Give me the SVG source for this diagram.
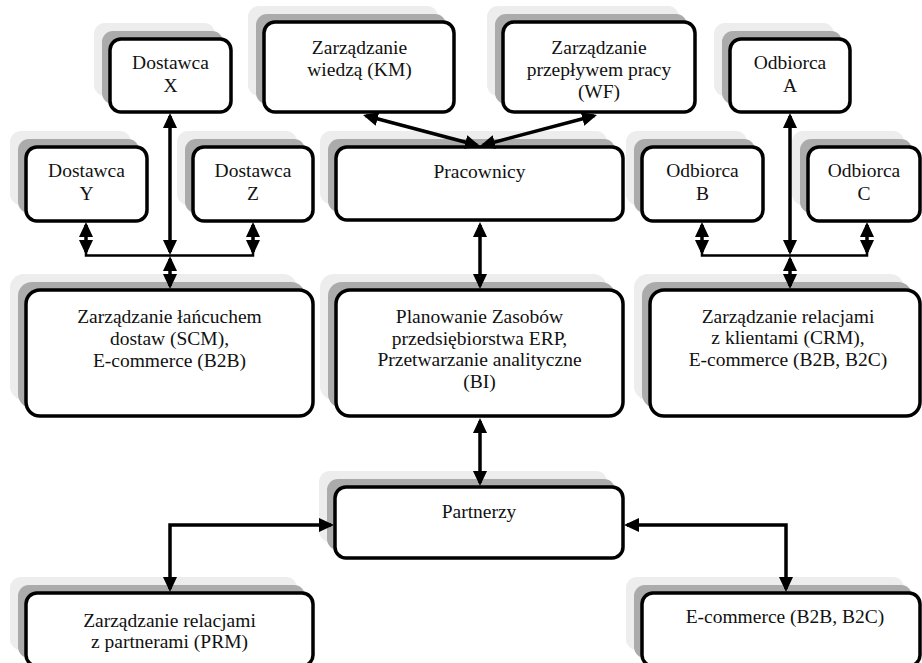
<svg xmlns="http://www.w3.org/2000/svg" width="922" height="663" viewBox="0 0 922 663">
<style>
.box{fill:#fff;stroke:#000;stroke-width:3.5}
.sh1{fill:#ededed}
.sh2{fill:#ababab}
.t{font-family:"Liberation Serif","Times New Roman",serif;font-size:19.5px;fill:#111;text-anchor:middle}
.c{fill:none;stroke:#000;stroke-width:3.5}
.bar{fill:none;stroke:#000;stroke-width:2.5}
</style>
<defs>
<marker id="ah" viewBox="0 0 15 14" refX="12" refY="7" markerWidth="15" markerHeight="14" markerUnits="userSpaceOnUse" orient="auto-start-reverse">
<path d="M0,0 L15,7 L0,14 z" fill="#000"/>
</marker>
</defs>
<rect width="922" height="663" fill="#fff"/>

<g id="dostawcaX">
<rect class="sh1" x="94" y="23" width="121" height="73" rx="11"/>
<rect class="sh2" x="102" y="31" width="121" height="73" rx="11"/>
<rect class="box" x="110" y="39" width="121" height="73" rx="11"/>
<text class="t" x="170.5" y="69">Dostawca</text>
<text class="t" x="170.5" y="92">X</text>
</g>
<g id="dostawcaY">
<rect class="sh1" x="10" y="131" width="121" height="74" rx="11"/>
<rect class="sh2" x="18" y="139" width="121" height="74" rx="11"/>
<rect class="box" x="26" y="147" width="121" height="74" rx="11"/>
<text class="t" x="86.5" y="177">Dostawca</text>
<text class="t" x="86.5" y="199.5">Y</text>
</g>
<g id="dostawcaZ">
<rect class="sh1" x="177" y="131" width="120" height="74" rx="11"/>
<rect class="sh2" x="185" y="139" width="120" height="74" rx="11"/>
<rect class="box" x="193" y="147" width="120" height="74" rx="11"/>
<text class="t" x="253" y="177">Dostawca</text>
<text class="t" x="253" y="199.5">Z</text>
</g>
<g id="km">
<rect class="sh1" x="248" y="6" width="190" height="90" rx="11"/>
<rect class="sh2" x="256" y="14" width="190" height="90" rx="11"/>
<rect class="box" x="264" y="22" width="190" height="90" rx="11"/>
<text class="t" x="359.5" y="54">Zarządzanie</text>
<text class="t" x="359.5" y="76">wiedzą (KM)</text>
</g>
<g id="wf">
<rect class="sh1" x="487" y="6" width="192" height="90" rx="11"/>
<rect class="sh2" x="495" y="14" width="192" height="90" rx="11"/>
<rect class="box" x="503" y="22" width="192" height="90" rx="11"/>
<text class="t" x="599" y="54">Zarządzanie</text>
<text class="t" x="599" y="76">przepływem pracy</text>
<text class="t" x="599" y="98">(WF)</text>
</g>
<g id="odbiorcaA">
<rect class="sh1" x="714" y="23" width="120" height="73" rx="11"/>
<rect class="sh2" x="722" y="31" width="120" height="73" rx="11"/>
<rect class="box" x="730" y="39" width="120" height="73" rx="11"/>
<text class="t" x="790" y="69">Odbiorca</text>
<text class="t" x="790" y="92">A</text>
</g>
<g id="odbiorcaB">
<rect class="sh1" x="626" y="131" width="121" height="74" rx="11"/>
<rect class="sh2" x="634" y="139" width="121" height="74" rx="11"/>
<rect class="box" x="642" y="147" width="121" height="74" rx="11"/>
<text class="t" x="702.5" y="177">Odbiorca</text>
<text class="t" x="702.5" y="199.5">B</text>
</g>
<g id="odbiorcaC">
<rect class="sh1" x="792" y="131" width="112" height="74" rx="11"/>
<rect class="sh2" x="800" y="139" width="112" height="74" rx="11"/>
<rect class="box" x="808" y="147" width="112" height="74" rx="11"/>
<text class="t" x="864" y="177">Odbiorca</text>
<text class="t" x="864" y="199.5">C</text>
</g>
<g id="pracownicy">
<rect class="sh1" x="320" y="131" width="287" height="73" rx="11"/>
<rect class="sh2" x="328" y="139" width="287" height="73" rx="11"/>
<rect class="box" x="336" y="147" width="287" height="73" rx="11"/>
<text class="t" x="479.5" y="178">Pracownicy</text>
</g>
<g id="scm">
<rect class="sh1" x="10" y="274" width="287" height="126" rx="14"/>
<rect class="sh2" x="18" y="282" width="287" height="126" rx="14"/>
<rect class="box" x="26" y="290" width="287" height="126" rx="14"/>
<text class="t" x="169.5" y="323">Zarządzanie łańcuchem</text>
<text class="t" x="169.5" y="345">dostaw (SCM),</text>
<text class="t" x="169.5" y="367">E-commerce (B2B)</text>
</g>
<g id="erp">
<rect class="sh1" x="320" y="274" width="287" height="126" rx="14"/>
<rect class="sh2" x="328" y="282" width="287" height="126" rx="14"/>
<rect class="box" x="336" y="290" width="287" height="126" rx="14"/>
<text class="t" x="479.5" y="323">Planowanie Zasobów</text>
<text class="t" x="479.5" y="344.5">przedsiębiorstwa ERP,</text>
<text class="t" x="479.5" y="366">Przetwarzanie analityczne</text>
<text class="t" x="479.5" y="388">(BI)</text>
</g>
<g id="crm">
<rect class="sh1" x="634" y="274" width="270" height="126" rx="14"/>
<rect class="sh2" x="642" y="282" width="270" height="126" rx="14"/>
<rect class="box" x="650" y="290" width="270" height="126" rx="14"/>
<text class="t" x="788" y="323">Zarządzanie relacjami</text>
<text class="t" x="788" y="344">z klientami (CRM),</text>
<text class="t" x="788" y="366">E-commerce (B2B, B2C)</text>
</g>
<g id="partnerzy">
<rect class="sh1" x="319" y="471" width="288" height="71" rx="11"/>
<rect class="sh2" x="327" y="479" width="288" height="71" rx="11"/>
<rect class="box" x="335" y="487" width="288" height="71" rx="11"/>
<text class="t" x="479" y="518">Partnerzy</text>
</g>
<g id="prm">
<rect class="sh1" x="10" y="577" width="287" height="73" rx="11"/>
<rect class="sh2" x="18" y="585" width="287" height="73" rx="11"/>
<rect class="box" x="26" y="593" width="287" height="73" rx="11"/>
<text class="t" x="169.5" y="627">Zarządzanie relacjami</text>
<text class="t" x="169.5" y="648">z partnerami (PRM)</text>
</g>
<g id="ecommerce">
<rect class="sh1" x="626" y="577" width="278" height="73" rx="11"/>
<rect class="sh2" x="634" y="585" width="278" height="73" rx="11"/>
<rect class="box" x="642" y="593" width="278" height="73" rx="11"/>
<text class="t" x="785" y="623">E-commerce (B2B, B2C)</text>
</g>

<g id="connectors">
<line class="c" x1="365.9" y1="115.8" x2="477.1" y2="145.2" marker-start="url(#ah)" marker-end="url(#ah)"/>
<line class="c" x1="594.1" y1="115.8" x2="482.9" y2="145.2" marker-start="url(#ah)" marker-end="url(#ah)"/>
<line class="c" x1="170" y1="116" x2="170" y2="252" marker-start="url(#ah)" marker-end="url(#ah)"/>
<polyline class="bar" points="86,252 86,255.5 253,255.5 253,252"/>
<line class="c" x1="86" y1="225" x2="86" y2="252" marker-start="url(#ah)" marker-end="url(#ah)"/>
<line class="c" x1="253" y1="225" x2="253" y2="252" marker-start="url(#ah)" marker-end="url(#ah)"/>
<line class="c" x1="170" y1="259" x2="170" y2="286" marker-start="url(#ah)" marker-end="url(#ah)"/>
<line class="c" x1="790" y1="116" x2="790" y2="252" marker-start="url(#ah)" marker-end="url(#ah)"/>
<polyline class="bar" points="702,252 702,255.5 867,255.5 867,252"/>
<line class="c" x1="702" y1="225" x2="702" y2="252" marker-start="url(#ah)" marker-end="url(#ah)"/>
<line class="c" x1="867" y1="225" x2="867" y2="252" marker-start="url(#ah)" marker-end="url(#ah)"/>
<line class="c" x1="790" y1="259" x2="790" y2="286" marker-start="url(#ah)" marker-end="url(#ah)"/>
<line class="c" x1="480" y1="225" x2="480" y2="286" marker-start="url(#ah)" marker-end="url(#ah)"/>
<line class="c" x1="480" y1="421" x2="480" y2="483" marker-start="url(#ah)" marker-end="url(#ah)"/>
<polyline class="c" points="331,525 170,525 170,589" marker-start="url(#ah)" marker-end="url(#ah)"/>
<polyline class="c" points="627,525 786,525 786,589" marker-start="url(#ah)" marker-end="url(#ah)"/>
</g>
</svg>
